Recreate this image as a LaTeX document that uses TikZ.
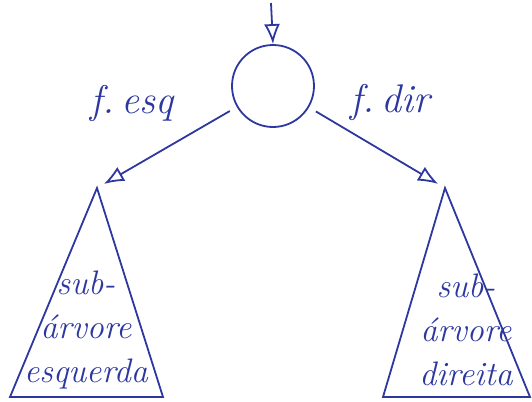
\documentclass[tikz,border=0pt]{standalone}
\usepackage{tikz}
\usetikzlibrary{arrows.meta}
\definecolor{pen}{RGB}{45,55,160}

\begin{document}
\begin{tikzpicture}[
  x=0.5pt, y=-0.5pt,
  >={Latex[open,length=10pt,width=8pt]},
  ink/.style={draw=pen, line width=0.9pt},
  ptr/.style={ink, ->},
  root/.style={ink, circle, inner sep=0pt, minimum size=41pt},
  tag/.style={text=pen, font=\fontsize{20}{24}\selectfont\itshape},
  inside/.style={
    text=pen,
    align=center,
    inner sep=0pt,
    font=\fontsize{17}{22}\selectfont\itshape
  }
]
  \useasboundingbox (0,0) rectangle (532,402);

  % root and its pointer
  \node[root] (no) at (273,86) {};
  \coordinate (top) at (271,3);
  \draw[ptr] (top) -- (no.north);

  % left subtree
  \coordinate (lapex) at (97,188);
  \coordinate (lbl) at (10,397);
  \coordinate (lbr) at (163,397);
  \draw[ink] (lapex) -- (lbl) -- (lbr) -- cycle;
  \node[inside] (lsub) at (86,330) {sub-\\árvore\\esquerda};

  % right subtree
  \coordinate (rapex) at (445,188);
  \coordinate (rbl) at (383,397);
  \coordinate (rbr) at (530,397);
  \draw[ink] (rapex) -- (rbl) -- (rbr) -- cycle;
  \node[inside] (rsub) at (466,330) {sub-\\árvore\\direita};

  % child pointers
  \draw[ptr, shorten <=4pt, shorten >=4pt] (no) -- (lapex);
  \draw[ptr, shorten <=4pt, shorten >=4pt] (no) -- (rapex);
  \node[tag] (esq) at (132,103) {f.\,esq};
  \node[tag] (dir) at (390,102) {f.\,dir};
\end{tikzpicture}
\end{document}
